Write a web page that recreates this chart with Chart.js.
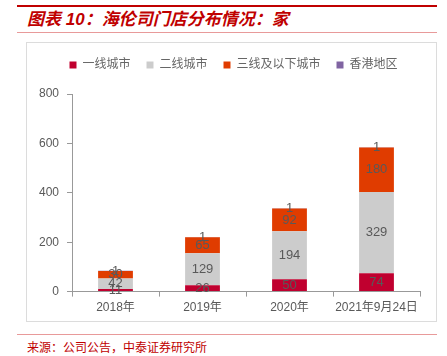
<!DOCTYPE html>
<html><head><meta charset="utf-8">
<script src="https://cdn.jsdelivr.net/npm/chart.js@4/dist/chart.umd.min.js"></script>
<style>
html,body{margin:0;padding:0;background:#fff}
body{width:447px;height:356px;position:relative;overflow:hidden;font-family:"Liberation Sans","Noto Sans CJK SC",sans-serif}
#topline{position:absolute;left:17px;top:5px;width:420px;height:2px;background:#c00000}
#title{position:absolute;left:27px;top:9px;font-style:italic;font-weight:bold;font-size:17px;line-height:22px;color:#c00000;font-family:"Liberation Sans","Noto Sans CJK SC",sans-serif;white-space:nowrap}
#subline{position:absolute;left:17px;top:32px;width:420px;height:1px;background:#e89a9a}
#frame{position:absolute;left:26px;top:42px;width:409px;height:278px;border:1px solid #dcdcdc}
#wrap{position:absolute;left:0;top:0;width:409px;height:278px}
#footline{position:absolute;left:17px;top:334px;width:420px;height:1px;background:#e89a9a}
#source{position:absolute;left:27px;top:340px;font-size:12px;line-height:14px;color:#c00000;font-family:"Noto Sans CJK SC",sans-serif;white-space:nowrap}
</style></head>
<body>
<div id="topline"></div>
<div id="title">图表 10：海伦司门店分布情况：家</div>
<div id="subline"></div>
<div id="frame"><div id="wrap"><canvas id="c"></canvas></div></div>
<div id="footline"></div>
<div id="source">来源：公司公告，中泰证券研究所</div>
<script>
const categories = ["2018年", "2019年", "2020年", "2021年9月24日"];
const seriesNames = ["一线城市", "二线城市", "三线及以下城市", "香港地区"];
const tier1 = [11, 26, 50, 74];
const tier2 = [42, 129, 194, 329];
const tier3 = [30, 65, 92, 180];
const hongkong = [1, 1, 1, 1];
const yTicks = [0, 200, 400, 600, 800];

const colors = ["#C0002F", "#CCCCCC", "#E03C00", "#8064A2"];
const FONT = '"Liberation Sans","Noto Sans CJK SC",sans-serif';

const labelPlugin = {
  id: 'segLabels',
  afterDatasetsDraw(chart) {
    const ctx = chart.ctx;
    ctx.save();
    ctx.font = '13px ' + FONT;
    ctx.fillStyle = '#595959';
    ctx.textAlign = 'center';
    ctx.textBaseline = 'middle';
    chart.data.datasets.forEach((ds, i) => {
      const meta = chart.getDatasetMeta(i);
      meta.data.forEach((el, j) => {
        const v = ds.data[j];
        const y = (el.y + el.base) / 2;
        ctx.fillText(String(v), el.x, y);
      });
    });
    ctx.restore();
  }
};

const legendMargin = {
  id: 'legendMargin',
  beforeInit(chart) {
    const fit = chart.legend.fit;
    chart.legend.fit = function () {
      fit.bind(chart.legend)();
      this.height += 13;
    };
  },
  afterLayout(chart) {
    chart.legend.left += 10;
    chart.legend.right += 10;
  }
};

const data = {
  labels: categories,
  datasets: [tier1, tier2, tier3, hongkong].map((arr, i) => ({
    label: seriesNames[i],
    data: arr,
    backgroundColor: colors[i],
    borderWidth: 0,
    categoryPercentage: 1,
    barPercentage: 0.4
  }))
};

new Chart(document.getElementById('c'), {
  type: 'bar',
  data,
  plugins: [labelPlugin, legendMargin],
  options: {
    responsive: true,
    maintainAspectRatio: false,
    animation: false,
    devicePixelRatio: 1,
    layout: { padding: { left: 0, right: 16, top: 0, bottom: 2 } },
    plugins: {
      tooltip: { enabled: false },
      legend: {
        position: 'top',
        labels: {
          boxWidth: 7, boxHeight: 7, padding: 16,
          color: '#666666',
          font: { size: 12, family: FONT }
        }
      }
    },
    scales: {
      x: {
        stacked: true,
        grid: { display: true, drawOnChartArea: false, drawTicks: true, tickLength: 5, color: '#999999', offset: true },
        border: { display: true, color: '#999999' },
        ticks: { color: '#595959', font: { size: 12, family: FONT }, padding: 4, maxRotation: 0 }
      },
      y: {
        stacked: true,
        min: 0, max: 800,
        afterFit(s) { s.width = 45; },
        afterBuildTicks(s) { s.ticks = yTicks.map(v => ({ value: v })); },
        grid: { display: true, drawOnChartArea: false, drawTicks: true, tickLength: 5, color: '#999999' },
        border: { display: true, color: '#999999' },
        ticks: { color: '#595959', font: { size: 12, family: FONT }, padding: 8 }
      }
    }
  }
});
</script>
</body></html>
